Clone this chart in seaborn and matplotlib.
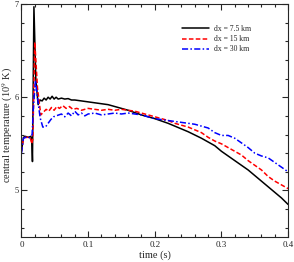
import matplotlib
matplotlib.use('Agg')

import matplotlib.pyplot as plt
import seaborn as sns
import pandas as pd
from matplotlib.ticker import MultipleLocator, FuncFormatter

sns.set_theme(style="ticks")
plt.rcParams['font.family'] = ['Liberation Serif', 'DejaVu Serif']
plt.rcParams['mathtext.fontset'] = 'stix'

labels = ["dx = 7.5 km", "dx = 15 km", "dx = 30 km"]

t_75 = [0, 0.003, 0.006, 0.010, 0.014, 0.0155, 0.0165, 0.0187, 0.0215, 0.025,
        0.028, 0.031, 0.034, 0.037, 0.040, 0.043, 0.046, 0.049, 0.052, 0.055,
        0.060, 0.065, 0.070, 0.075, 0.080, 0.090, 0.100, 0.110, 0.120, 0.130,
        0.140, 0.150, 0.160, 0.170, 0.180, 0.190, 0.200, 0.210, 0.220, 0.230,
        0.240, 0.250, 0.260, 0.270, 0.280, 0.290, 0.300, 0.310, 0.320, 0.330,
        0.340, 0.350, 0.360, 0.370, 0.380, 0.390, 0.400]
T_75 = [5.42, 5.57, 5.58, 5.57, 5.58, 5.55, 5.31, 6.97, 6.20, 5.92,
        5.97, 5.96, 5.99, 5.97, 6.00, 5.98, 6.01, 5.98, 6.00, 5.98,
        5.99, 5.98, 5.985, 5.97, 5.97, 5.96, 5.95, 5.94, 5.93, 5.92,
        5.90, 5.88, 5.86, 5.835, 5.81, 5.79, 5.77, 5.745, 5.72, 5.69,
        5.66, 5.63, 5.595, 5.56, 5.52, 5.48, 5.42, 5.37, 5.32, 5.27,
        5.22, 5.16, 5.10, 5.04, 4.98, 4.92, 4.85]

t_15 = [0, 0.003, 0.006, 0.010, 0.013, 0.0155, 0.017, 0.020, 0.024, 0.029,
        0.033, 0.037, 0.041, 0.045, 0.049, 0.053, 0.057, 0.062, 0.067, 0.072,
        0.077, 0.083, 0.090, 0.100, 0.110, 0.120, 0.130, 0.140, 0.150, 0.160,
        0.170, 0.180, 0.190, 0.200, 0.210, 0.220, 0.230, 0.240, 0.250, 0.260,
        0.270, 0.280, 0.290, 0.300, 0.310, 0.320, 0.330, 0.340, 0.350, 0.360,
        0.370, 0.380, 0.390, 0.400]
T_15 = [5.42, 5.56, 5.57, 5.57, 5.57, 5.50, 5.55, 6.59, 6.10, 5.81,
        5.84, 5.87, 5.85, 5.89, 5.86, 5.90, 5.88, 5.91, 5.88, 5.90,
        5.87, 5.88, 5.86, 5.88, 5.87, 5.86, 5.87, 5.86, 5.87, 5.86,
        5.85, 5.83, 5.81, 5.79, 5.77, 5.75, 5.72, 5.70, 5.68, 5.65,
        5.62, 5.57, 5.53, 5.50, 5.46, 5.42, 5.38, 5.32, 5.27, 5.22,
        5.15, 5.10, 5.06, 5.02]

t_30 = [0, 0.003, 0.006, 0.010, 0.013, 0.016, 0.018, 0.021, 0.024, 0.028,
        0.032, 0.036, 0.040, 0.044, 0.048, 0.052, 0.056, 0.060, 0.065, 0.070,
        0.075, 0.080, 0.085, 0.090, 0.095, 0.100, 0.110, 0.120, 0.130, 0.140,
        0.150, 0.160, 0.170, 0.180, 0.190, 0.200, 0.210, 0.220, 0.230, 0.240,
        0.250, 0.260, 0.270, 0.280, 0.290, 0.300, 0.310, 0.320, 0.330, 0.340,
        0.350, 0.360, 0.370, 0.380, 0.390, 0.400]
T_30 = [5.40, 5.56, 5.57, 5.56, 5.57, 5.60, 5.90, 6.18, 6.00, 5.78,
        5.68, 5.68, 5.72, 5.76, 5.79, 5.80, 5.81, 5.82, 5.79, 5.83,
        5.80, 5.85, 5.81, 5.83, 5.80, 5.82, 5.83, 5.81, 5.82, 5.83,
        5.82, 5.83, 5.82, 5.81, 5.79, 5.77, 5.76, 5.75, 5.74, 5.73,
        5.72, 5.71, 5.69, 5.67, 5.62, 5.59, 5.59, 5.56, 5.51, 5.46,
        5.40, 5.37, 5.35, 5.30, 5.25, 5.20]

df = pd.concat([
    pd.DataFrame({'time': t_75, 'temp': T_75, 'run': labels[0]}),
    pd.DataFrame({'time': t_15, 'temp': T_15, 'run': labels[1]}),
    pd.DataFrame({'time': t_30, 'temp': T_30, 'run': labels[2]}),
], ignore_index=True)

fig = plt.figure(figsize=(2.94, 2.62), dpi=100)
ax = fig.add_axes([0.073, 0.095, 0.907, 0.89])

palette = dict(zip(labels, ['black', '#ff0000', '#0000ff']))
dashes = dict(zip(labels, ['', (3, 1.5), (4, 1.5, 1, 1.5)]))

sns.lineplot(data=df, x='time', y='temp', hue='run', style='run',
             palette=palette, dashes=dashes, estimator=None, sort=False,
             linewidth=1.1, ax=ax)

ax.set_xlim(0, 0.4)
ax.set_ylim(4.5, 7)
ax.xaxis.set_major_locator(MultipleLocator(0.1))
ax.xaxis.set_minor_locator(MultipleLocator(0.02))
ax.yaxis.set_major_locator(MultipleLocator(1))
ax.yaxis.set_minor_locator(MultipleLocator(0.2))
ax.xaxis.set_major_formatter(FuncFormatter(lambda x, _: '{:g}'.format(round(x, 3))))
ax.tick_params(which='both', direction='in', top=True, right=True,
               labelsize=6.5, width=0.8, pad=3)
ax.tick_params(axis='y', pad=2, labelsize=6)
ax.tick_params(which='major', length=4)
ax.tick_params(which='minor', length=2)
for s in ax.spines.values():
    s.set_linewidth(0.8)

ax.set_xlabel('time (s)', fontsize=7.5, labelpad=1)
ax.set_ylabel('central temperature (10$^9$ K)', fontsize=7.5)
ax.yaxis.label.set_va('center')
ax.yaxis.set_label_coords(-0.053, 0.48)

leg = ax.legend(loc='upper right', bbox_to_anchor=(0.86, 0.91), frameon=False,
                fontsize=5.5, handlelength=3.6, labelspacing=0.3,
                handletextpad=0.6, borderaxespad=0, borderpad=0)
leg.set_title(None)

plt.savefig('out.png', dpi=100)
